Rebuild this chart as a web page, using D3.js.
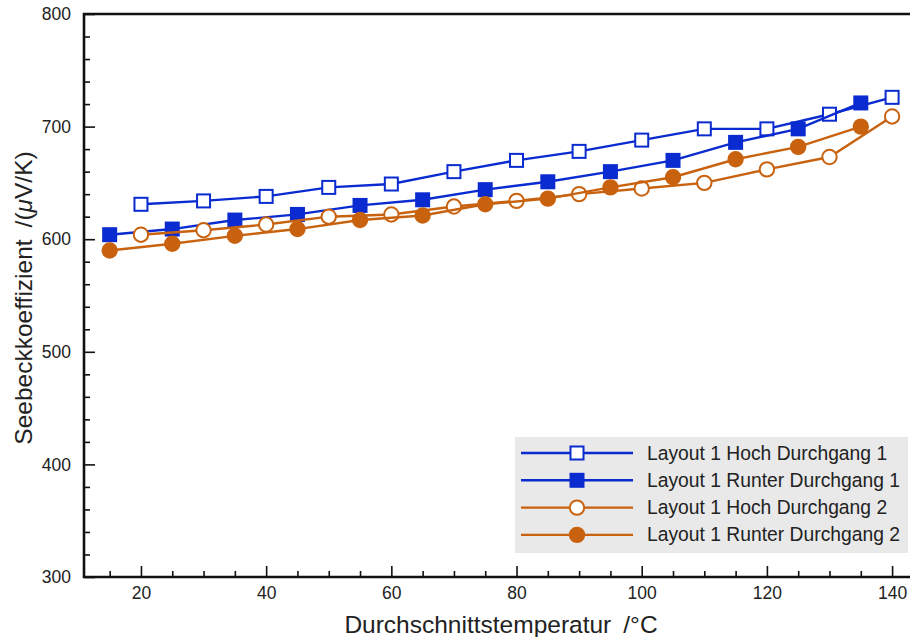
<!DOCTYPE html>
<html><head><meta charset="utf-8">
<script src="https://cdn.jsdelivr.net/npm/d3@7"></script>
<style>body{margin:0;background:#fff}svg{display:block}</style>
</head><body>
<svg id="c" width="910" height="637"></svg>
<script>
const xTicks = [20, 40, 60, 80, 100, 120, 140];
const yTicks = [300, 400, 500, 600, 700, 800];
const tHoch = [20, 30, 40, 50, 60, 70, 80, 90, 100, 110, 120, 130, 140];
const tRunter = [15, 25, 35, 45, 55, 65, 75, 85, 95, 105, 115, 125, 135];
const hoch1 = [631, 634, 638, 646, 649, 660, 670, 678, 688, 698, 698, 711, 726];
const runter1 = [604, 609, 617, 622, 630, 635, 644, 651, 660, 670, 686, 698, 721];
const hoch2 = [604, 608, 613, 620, 622, 629, 634, 640, 645, 650, 662, 673, 709];
const runter2 = [590, 596, 603, 609, 617, 621, 631, 636, 646, 655, 671, 682, 700];
const seriesNames = ["Layout 1 Hoch Durchgang 1", "Layout 1 Runter Durchgang 1", "Layout 1 Hoch Durchgang 2", "Layout 1 Runter Durchgang 2"];

const BLUE = "#0a2bd0", ORANGE = "#c8620f";
const series = [
  {name: seriesNames[0], t: tHoch, v: hoch1, color: BLUE, shape: "square", filled: false},
  {name: seriesNames[1], t: tRunter, v: runter1, color: BLUE, shape: "square", filled: true},
  {name: seriesNames[2], t: tHoch, v: hoch2, color: ORANGE, shape: "circle", filled: false},
  {name: seriesNames[3], t: tRunter, v: runter2, color: ORANGE, shape: "circle", filled: true}
];

const svg = d3.select("#c");
const L = 84, R = 914, T = 14, B = 577;
const x = d3.scaleLinear().domain([10.9, 143.5]).range([L, R]);
const y = d3.scaleLinear().domain([300, 800]).range([B, T]);
const font = "'Liberation Sans', Arial, sans-serif";

// axes
const xMinor = d3.range(15, 145, 5).filter(v => v % 20 !== 0);
const yMinor = d3.range(320, 800, 20).filter(v => v % 100 !== 0);
const gx = svg.append("g").attr("transform", `translate(0,${B})`);
gx.call(d3.axisBottom(x).tickValues(xMinor).tickSize(-6).tickFormat(""));
gx.select(".domain").remove();
const gx2 = svg.append("g").attr("transform", `translate(0,${B})`);
gx2.call(d3.axisBottom(x).tickValues(xTicks).tickSize(-11).tickPadding(10).tickFormat(d3.format("d")));
gx2.select(".domain").remove();
gx2.selectAll("text").attr("font-size", 17.5).attr("font-family", font).attr("fill", "#222");

const gy = svg.append("g").attr("transform", `translate(${L},0)`);
gy.call(d3.axisLeft(y).tickValues(yMinor).tickSize(-6).tickFormat(""));
gy.select(".domain").remove();
const gy2 = svg.append("g").attr("transform", `translate(${L},0)`);
gy2.call(d3.axisLeft(y).tickValues(yTicks).tickSize(-11).tickPadding(13).tickFormat(d3.format("d")));
gy2.select(".domain").remove();
gy2.selectAll("text").attr("font-size", 17.5).attr("font-family", font).attr("fill", "#222");
svg.selectAll(".tick line").attr("stroke", "#111").attr("stroke-width", 1.6);

// frame
svg.append("path").attr("d", `M${R},${T}H${L}V${B}H${R}`).attr("fill", "none").attr("stroke", "#111").attr("stroke-width", 2.6);

// titles
const xt = svg.append("text").attr("x", 501).attr("y", 633).attr("text-anchor", "middle").attr("font-family", font).attr("font-size", 24.5).attr("fill", "#222");
xt.append("tspan").text("Durchschnittstemperatur");
xt.append("tspan").attr("dx", 12).text("/°C");
const yt = svg.append("text").attr("transform", "translate(32,298) rotate(-90)").attr("text-anchor", "middle").attr("font-family", font).attr("font-size", 24.5).attr("fill", "#222");
yt.append("tspan").text("Seebeckkoeffizient");
yt.append("tspan").attr("dx", 12).text("/(");
yt.append("tspan").attr("font-style", "italic").text("μ");
yt.append("tspan").text("V/K)");

function drawMarker(g, s, cx, cy) {
  const fill = s.filled ? s.color : "#fff";
  if (s.shape === "square") {
    g.append("rect").attr("x", cx - 6.5).attr("y", cy - 6.5).attr("width", 13).attr("height", 13)
      .attr("fill", fill).attr("stroke", s.color).attr("stroke-width", 2);
  } else {
    g.append("circle").attr("cx", cx).attr("cy", cy).attr("r", 7.2)
      .attr("fill", fill).attr("stroke", s.color).attr("stroke-width", 2);
  }
}

const line = d3.line().x(d => x(d[0])).y(d => y(d[1]));
series.forEach(s => {
  const pts = s.t.map((t, i) => [t, s.v[i]]);
  const g = svg.append("g");
  g.append("path").attr("d", line(pts)).attr("fill", "none").attr("stroke", s.color).attr("stroke-width", 2.4);
  pts.forEach(p => drawMarker(g, s, x(p[0]), y(p[1])));
});

// legend
const lg = svg.append("g");
lg.append("rect").attr("x", 515).attr("y", 437).attr("width", 393).attr("height", 116).attr("fill", "#e9e9e9");
series.forEach((s, i) => {
  const yy = 453 + i * 27.3;
  lg.append("line").attr("x1", 521).attr("x2", 633).attr("y1", yy).attr("y2", yy).attr("stroke", s.color).attr("stroke-width", 2.4);
  drawMarker(lg, s, 577, yy);
  lg.append("text").attr("x", 647).attr("y", yy + 6.5).attr("font-family", font).attr("font-size", 19.3).attr("fill", "#222").text(s.name);
});
</script>
</body></html>
